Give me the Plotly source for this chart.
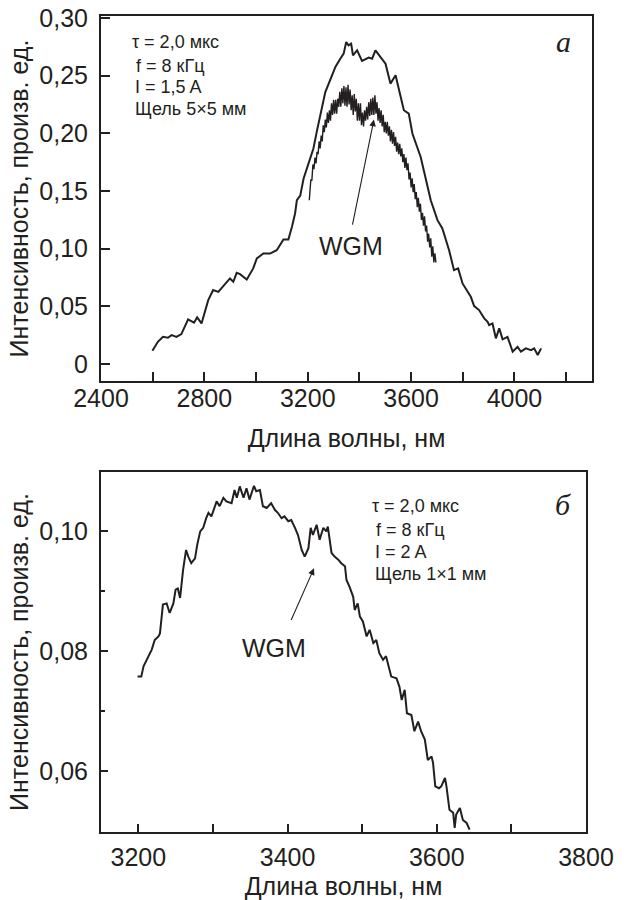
import plotly.graph_objects as go

# ---------------- data ----------------
# panel a, outer (smoother) spectrum
a_outer_x = [2599, 2620, 2640, 2659, 2673, 2692, 2711, 2737, 2760, 2772, 2789, 2815, 2834, 2854,
             2899, 2912, 2925, 2938, 2964, 2989, 3003, 3028, 3054, 3080, 3106, 3125, 3139, 3151,
             3158, 3171, 3184, 3203, 3222, 3236, 3261, 3268, 3294, 3307, 3326, 3339, 3349, 3358,
             3368, 3375, 3391, 3410, 3436, 3449, 3462, 3481, 3501, 3520, 3540, 3552, 3572, 3591,
             3605, 3637, 3656, 3676, 3702, 3721, 3747, 3766, 3782, 3799, 3831, 3844, 3863, 3883,
             3896, 3902, 3915, 3928, 3941, 3954, 3973, 3993, 4012, 4025, 4044, 4064, 4076, 4090, 4103]
a_outer_y = [0.0115, 0.0193, 0.0236, 0.0228, 0.0251, 0.0236, 0.0260, 0.0387, 0.0358, 0.0404, 0.0352,
             0.0554, 0.0641, 0.0626, 0.0742, 0.0713, 0.0791, 0.0779, 0.0733, 0.0829, 0.0915, 0.0958,
             0.0958, 0.0987, 0.1080, 0.1080, 0.1190, 0.1305, 0.1420, 0.1460, 0.1608, 0.1738, 0.1868,
             0.2026, 0.2272, 0.2358, 0.2503, 0.2575, 0.2647, 0.2691, 0.2791, 0.2763, 0.2777, 0.2676,
             0.2719, 0.2627, 0.2656, 0.2647, 0.2719, 0.2661, 0.2604, 0.2431, 0.2503, 0.2388, 0.2200,
             0.2171, 0.1998, 0.1795, 0.1622, 0.1420, 0.1247, 0.1175, 0.0987, 0.0814, 0.0829, 0.0699,
             0.0583, 0.0502, 0.0468, 0.0396, 0.0366, 0.0338, 0.0352, 0.0223, 0.0309, 0.0214, 0.0236,
             0.0107, 0.0150, 0.0107, 0.0136, 0.0121, 0.0136, 0.0078, 0.0136]

# panel a, inner (noisy) spectrum
a_inner_x = [3206, 3208, 3212, 3216, 3220, 3224, 3228, 3232, 3236, 3240, 3244,
             3248, 3252, 3256, 3260, 3264, 3268, 3272, 3276, 3280, 3284,
             3288, 3292, 3296, 3300, 3304, 3308, 3312, 3316, 3320, 3324,
             3328, 3332, 3336, 3340, 3344, 3348, 3352, 3356, 3360, 3364,
             3368, 3372, 3376, 3380, 3384, 3388, 3392, 3396, 3400, 3404,
             3408, 3412, 3416, 3420, 3424, 3428, 3432, 3436, 3440, 3444,
             3448, 3452, 3456, 3460, 3464, 3468, 3472, 3476, 3480, 3484,
             3488, 3492, 3496, 3500, 3504, 3508, 3512, 3516, 3520, 3524,
             3528, 3532, 3536, 3540, 3544, 3548, 3552, 3556, 3560, 3564,
             3568, 3572, 3576, 3580, 3584, 3588, 3592, 3596, 3600, 3604,
             3608, 3612, 3616, 3620, 3624, 3628, 3632, 3636, 3640, 3644,
             3648, 3652, 3656, 3660, 3664, 3668, 3672, 3676, 3680, 3684,
             3688, 3692, 3696]
a_inner_y = [0.142, 0.150, 0.160, 0.159, 0.173, 0.169, 0.179, 0.174, 0.184, 0.182, 0.193,
             0.187, 0.198, 0.193, 0.207, 0.201, 0.212, 0.205, 0.218, 0.209, 0.220,
             0.211, 0.226, 0.216, 0.229, 0.217, 0.229, 0.217, 0.230, 0.223, 0.236,
             0.223, 0.239, 0.226, 0.241, 0.224, 0.240, 0.223, 0.242, 0.225, 0.238,
             0.220, 0.233, 0.216, 0.234, 0.219, 0.230, 0.211, 0.226, 0.211, 0.226,
             0.207, 0.218, 0.206, 0.220, 0.211, 0.223, 0.212, 0.227, 0.215, 0.230,
             0.216, 0.231, 0.216, 0.233, 0.217, 0.227, 0.211, 0.222, 0.209, 0.220,
             0.206, 0.216, 0.201, 0.210, 0.200, 0.210, 0.198, 0.206, 0.193, 0.203,
             0.191, 0.201, 0.189, 0.197, 0.184, 0.192, 0.182, 0.191, 0.180, 0.187,
             0.175, 0.182, 0.170, 0.179, 0.168, 0.174, 0.160, 0.166, 0.153, 0.161,
             0.149, 0.156, 0.143, 0.149, 0.136, 0.144, 0.132, 0.139, 0.125, 0.131,
             0.120, 0.128, 0.115, 0.120, 0.106, 0.113, 0.101, 0.109, 0.093, 0.102,
             0.088, 0.096, 0.088]

# panel b spectrum
b_x = [3199, 3204, 3207, 3211, 3215, 3218, 3222, 3227, 3229, 3231, 3233, 3238, 3242, 3247, 3250,
       3253, 3256, 3260, 3264, 3267, 3271, 3276, 3279, 3283, 3287, 3291, 3294, 3298, 3303, 3305,
       3309, 3314, 3318, 3325, 3329, 3332, 3336, 3341, 3345, 3349, 3355, 3358, 3363, 3367, 3372,
       3378, 3383, 3387, 3392, 3396, 3401, 3405, 3410, 3414, 3419, 3423, 3428, 3431, 3434, 3439,
       3443, 3448, 3452, 3454, 3459, 3463, 3468, 3472, 3477, 3479, 3483, 3488, 3490, 3494, 3497,
       3501, 3506, 3510, 3515, 3519, 3523, 3528, 3532, 3537, 3539, 3546, 3550, 3553, 3557, 3560,
       3566, 3570, 3575, 3579, 3584, 3588, 3593, 3595, 3598, 3603, 3606, 3611, 3613, 3617, 3622,
       3624, 3626, 3631, 3635, 3640, 3644]
b_y = [0.0757, 0.0757, 0.0774, 0.0785, 0.0795, 0.0802, 0.0818, 0.0824, 0.0829, 0.0852, 0.0877,
       0.0879, 0.0863, 0.0879, 0.0902, 0.0904, 0.0888, 0.0935, 0.0968, 0.0957, 0.0946, 0.0954,
       0.0977, 0.0999, 0.1005, 0.1021, 0.1030, 0.1024, 0.1041, 0.1049, 0.1041, 0.1055, 0.1049,
       0.1046, 0.1068, 0.1055, 0.1074, 0.1055, 0.1071, 0.1052, 0.1075, 0.1066, 0.1068, 0.1041,
       0.1038, 0.1046, 0.1035, 0.1030, 0.1021, 0.1024, 0.1016, 0.1018, 0.1005, 0.0993, 0.0968,
       0.0957, 0.0971, 0.1005, 0.0993, 0.1010, 0.0985, 0.1005, 0.0999, 0.1007, 0.0963, 0.0957,
       0.0952, 0.0946, 0.0941, 0.0918, 0.0907, 0.0890, 0.0868, 0.0879, 0.0857, 0.0849, 0.0824,
       0.0835, 0.0813, 0.0818, 0.0796, 0.0785, 0.0791, 0.0768, 0.0757, 0.0754, 0.0740, 0.0718,
       0.0735, 0.0696, 0.0693, 0.0666, 0.0682, 0.0666, 0.0652, 0.0618, 0.0624, 0.0613, 0.0574,
       0.0571, 0.0574, 0.0588, 0.0574, 0.0535, 0.0530, 0.0505, 0.0527, 0.0538, 0.0518, 0.0513,
       0.0502]

# ticks
a_xtick_vals = [2400, 2600, 2800, 3000, 3200, 3400, 3600, 3800, 4000, 4200]
a_xtick_text = ["2400", "", "2800", "", "3200", "", "3600", "", "4000", ""]
a_ytick_vals = [0, 0.05, 0.10, 0.15, 0.20, 0.25, 0.30]
a_ytick_text = ["0", "0,05", "0,10", "0,15", "0,20", "0,25", "0,30"]
b_xtick_vals = [3200, 3300, 3400, 3500, 3600, 3700, 3800]
b_xtick_text = ["3200", "", "3400", "", "3600", "", "3800"]
b_ytick_vals = [0.06, 0.08, 0.10]
b_ytick_text = ["0,06", "0,08", "0,10"]
b_yminor_vals = [0.07, 0.09]

x_title = "Длина волны, нм"
y_title = "Интенсивность, произв. ед."
a_notes = ["τ = 2,0 мкс", "f = 8 кГц", "I = 1,5 A", "Щель 5×5 мм"]
b_notes = ["τ = 2,0 мкс", "f = 8 кГц", "I = 2 A", "Щель 1×1 мм"]

# ---------------- figure ----------------
W, H = 629, 900
INK = "#231f20"
SANS = "Liberation Sans, Arial, sans-serif"
SERIF = "Liberation Serif, Times New Roman, serif"


def fx(p):
    return p / W


def fy(p):
    return 1 - p / H


fig = go.Figure()
fig.add_trace(go.Scatter(x=a_outer_x, y=a_outer_y, mode="lines",
                         line=dict(color=INK, width=2), xaxis="x", yaxis="y"))
fig.add_trace(go.Scatter(x=a_inner_x, y=a_inner_y, mode="lines",
                         line=dict(color=INK, width=1.4), xaxis="x", yaxis="y"))
fig.add_trace(go.Scatter(x=b_x, y=b_y, mode="lines",
                         line=dict(color=INK, width=2), xaxis="x2", yaxis="y2"))

axis_common = dict(showline=True, mirror=True, linecolor=INK, linewidth=2,
                   showgrid=False, zeroline=False, ticks="inside", tickcolor=INK,
                   tickwidth=1.5, tickfont=dict(family=SANS, size=25, color=INK),
                   tickmode="array", automargin=False)

fig.update_layout(
    template="none",
    width=W, height=H, margin=dict(l=0, r=0, t=0, b=0),
    paper_bgcolor="white", plot_bgcolor="white", showlegend=False,
    xaxis=dict(domain=[fx(101), fx(592)], range=[2400, 4300], anchor="y",
               tickvals=a_xtick_vals, ticktext=a_xtick_text, ticklen=9,
               ticklabelstandoff=-6,
               title=dict(text=x_title, font=dict(family=SANS, size=25, color=INK), standoff=18),
               **axis_common),
    yaxis=dict(domain=[fy(381), fy(16)], range=[-0.0147, 0.3017], anchor="x",
               tickvals=a_ytick_vals, ticktext=a_ytick_text, ticklen=9,
               ticklabelstandoff=6,
               title=dict(text=y_title, font=dict(family=SANS, size=25, color=INK), standoff=4),
               **axis_common),
    xaxis2=dict(domain=[fx(101), fx(586)], range=[3150, 3800], anchor="y2",
                tickvals=b_xtick_vals, ticktext=b_xtick_text, ticklen=8,
                ticklabelstandoff=2,
                title=dict(text=x_title, font=dict(family=SANS, size=25, color=INK), standoff=14),
                **axis_common),
    yaxis2=dict(domain=[fy(832), fy(472)], range=[0.0498, 0.1098], anchor="x2",
                tickvals=b_ytick_vals, ticktext=b_ytick_text, ticklen=7,
                ticklabelstandoff=6,
                minor=dict(tickmode="array", tickvals=b_yminor_vals, ticks="inside",
                           ticklen=4, tickwidth=1.5, tickcolor=INK),
                title=dict(text=y_title, font=dict(family=SANS, size=25, color=INK), standoff=4),
                **axis_common),
)

ann = []
a_note_pos = [(130, 42), (134, 66), (133, 87), (133, 109)]
for t, (x, y) in zip(a_notes, a_note_pos):
    ann.append(dict(text=t, x=fx(x), y=fy(y), xref="paper", yref="paper", xanchor="left",
                    yanchor="middle", showarrow=False, font=dict(family=SANS, size=18, color=INK)))
b_note_pos = [(370, 506), (374, 530), (373, 552), (373, 574)]
for t, (x, y) in zip(b_notes, b_note_pos):
    ann.append(dict(text=t, x=fx(x), y=fy(y), xref="paper", yref="paper", xanchor="left",
                    yanchor="middle", showarrow=False, font=dict(family=SANS, size=18, color=INK)))

# panel letters
ann.append(dict(text="<i>a</i>", x=fx(563), y=fy(42), xref="paper", yref="paper",
                xanchor="center", yanchor="middle",
                showarrow=False, font=dict(family=SERIF, size=30, color=INK)))
ann.append(dict(text="<i>б</i>", x=fx(563), y=fy(504), xref="paper", yref="paper",
                xanchor="center", yanchor="middle",
                showarrow=False, font=dict(family=SERIF, size=30, color=INK)))

# WGM labels and arrows
ann.append(dict(text="WGM", x=3367, y=0.1026, xref="x", yref="y", showarrow=False,
                font=dict(family=SANS, size=25, color=INK)))
ann.append(dict(text="", x=3456, y=0.2119, ax=3372, ay=0.1195, xref="x", yref="y",
                axref="x", ayref="y", showarrow=True, arrowhead=2, arrowsize=1.2,
                arrowwidth=1.1, arrowcolor=INK))
ann.append(dict(text="WGM", x=3382, y=0.0805, xref="x2", yref="y2", showarrow=False,
                font=dict(family=SANS, size=25, color=INK)))
ann.append(dict(text="", x=3435.5, y=0.09375, ax=3404, ay=0.08488, xref="x2", yref="y2",
                axref="x2", ayref="y2", showarrow=True, arrowhead=2, arrowsize=1.2,
                arrowwidth=1.1, arrowcolor=INK))

fig.update_layout(annotations=ann)
fig.write_html("out.html")
